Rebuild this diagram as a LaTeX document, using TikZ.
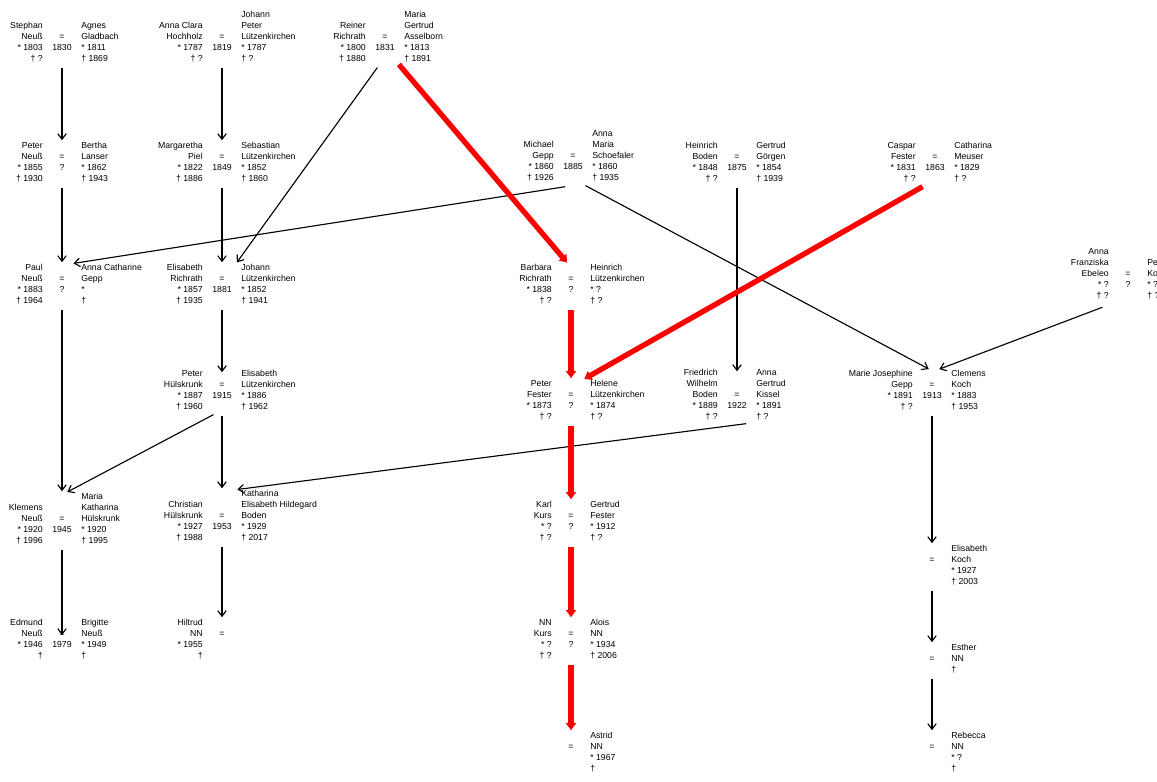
\documentclass[tikz,border=0pt]{standalone}
\usepackage{fontspec}
\setmainfont{Liberation Sans}
\usetikzlibrary{arrows.meta,calc,fit,positioning}

\tikzset{
  person/.style={inner sep=0pt, font=\fontsize{6.2}{7.8}\selectfont},
  lside/.style={person, anchor=south east, align=right},
  rside/.style={person, anchor=south west, align=left},
  wed/.style={person, anchor=south, align=center},
  kid/.style={-{Straight Barb[length=4pt,width=6pt]}, line width=0.8pt, shorten <=2pt, shorten >=1pt},
  stamm/.style={-{Triangle[length=5pt,width=7pt]}, line width=3.8pt, red, shorten <=2pt, shorten >=1pt}
}

% couple: name, bottom point, left partner, middle, right partner
\newcommand{\couple}[5]{%
  \node[wed] (#1) at (#2) {#4\strut};
  \node[lside] (#1-l) at ($(#2)+(-19,0)$) {#3\strut};
  \node[rside] (#1-r) at ($(#2)+(19,0)$) {#5\strut};
  \node[fit=(#1-l)(#1)(#1-r), inner sep=0pt] (#1-box) {};
  \coordinate (#1-top) at (#1-box.north -| #1);
  \coordinate (#1-bot) at (#1-box.south -| #1);
}

\begin{document}
\begin{tikzpicture}[x=0.025cm, y=-0.025cm]
  \useasboundingbox (0,0) rectangle (1157,782);

  % generation 1
  \couple{c1}{62,65}{Stephan\\Neuß\\* 1803\\† ?}{=\\1830\\~}{Agnes\\Gladbach\\* 1811\\† 1869}
  \couple{c2}{222,65}{Anna Clara\\Hochholz\\* 1787\\† ?}{=\\1819\\~}{Johann\\Peter\\Lützenkirchen\\* 1787\\† ?}
  \couple{c3}{385,65}{Reiner\\Richrath\\* 1800\\† 1880}{=\\1831\\~}{Maria\\Gertrud\\Asselborn\\* 1813\\† 1891}

  % generation 2
  \couple{c4}{62,185}{Peter\\Neuß\\* 1855\\† 1930}{=\\?\\~}{Bertha\\Lanser\\* 1862\\† 1943}
  \couple{c5}{222,185}{Margaretha\\Piel\\* 1822\\† 1886}{=\\1849\\~}{Sebastian\\Lützenkirchen\\* 1852\\† 1860}
  \couple{c6}{573,184}{Michael\\Gepp\\* 1860\\† 1926}{=\\1885\\~}{Anna\\Maria\\Schoefaler\\* 1860\\† 1935}
  \couple{c7}{737,185}{Heinrich\\Boden\\* 1848\\† ?}{=\\1875\\~}{Gertrud\\Görgen\\* 1854\\† 1939}
  \couple{c8}{935,185}{Caspar\\Fester\\* 1831\\† ?}{=\\1863\\~}{Catharina\\Meuser\\* 1829\\† ?}

  % generation 3
  \couple{c9}{62,307}{Paul\\Neuß\\* 1883\\† 1964}{=\\?\\~}{Anna Catharine\\Gepp\\*\\†}
  \couple{c10}{222,307}{Elisabeth\\Richrath\\* 1857\\† 1935}{=\\1881\\~}{Johann\\Lützenkirchen\\* 1852\\† 1941}
  \couple{c11}{571,307}{Barbara\\Richrath\\* 1838\\† ?}{=\\?\\~}{Heinrich\\Lützenkirchen\\* ?\\† ?}
  \couple{c12}{1128,302}{Anna\\Franziska\\Ebeleo\\* ?\\† ?}{=\\?\\~}{Peter\\Koch\\* ?\\† ?}

  % generation 4
  \couple{c13}{222,413}{Peter\\Hülskrunk\\* 1887\\† 1960}{=\\1915\\~}{Elisabeth\\Lützenkirchen\\* 1886\\† 1962}
  \couple{c14}{571,423}{Peter\\Fester\\* 1873\\† ?}{=\\?\\~}{Helene\\Lützenkirchen\\* 1874\\† ?}
  \couple{c15}{737,423}{Friedrich\\Wilhelm\\Boden\\* 1889\\† ?}{=\\1922\\~}{Anna\\Gertrud\\Kissel\\* 1891\\† ?}
  \couple{c16}{932,413}{Marie Josephine\\Gepp\\* 1891\\† ?}{=\\1913\\~}{Clemens\\Koch\\* 1883\\† 1953}

  % generation 5
  \couple{c17}{62,547}{Klemens\\Neuß\\* 1920\\† 1996}{=\\1945\\~}{Maria\\Katharina\\Hülskrunk\\* 1920\\† 1995}
  \couple{c18}{222,544}{Christian\\Hülskrunk\\* 1927\\† 1988}{=\\1953\\~}{Katharina\\Elisabeth Hildegard\\Boden\\* 1929\\† 2017}
  \couple{c19}{571,544}{Karl\\Kurs\\* ?\\† ?}{=\\?\\~}{Gertrud\\Fester\\* 1912\\† ?}
  \couple{c20}{932,588}{}{=\\~\\~}{Elisabeth\\Koch\\* 1927\\† 2003}

  % generation 6
  \couple{c21}{62,662}{Edmund\\Neuß\\* 1946\\†}{=\\1979\\~}{Brigitte\\Neuß\\* 1949\\†}
  \couple{c22}{222,662}{Hiltrud\\NN\\* 1955\\†}{=\\~\\~}{}
  \couple{c23}{571,662}{NN\\Kurs\\* ?\\† ?}{=\\?\\~}{Alois\\NN\\* 1934\\† 2006}
  \couple{c24}{932,676}{}{=\\~}{Esther\\NN\\†}

  % generation 7
  \couple{c25}{571,775}{}{=\\~\\~}{Astrid\\NN\\* 1967\\†}
  \couple{c26}{932,775}{}{=\\~\\~}{Rebecca\\NN\\* ?\\†}

  % descent
  \draw[kid] (c1-bot) -- (c4-top);
  \draw[kid] (c2-bot) -- (c5-top);
  \draw[kid] ($(c3-bot)+(-6,0)$) -- ($(c10-top)+(14,0)$);
  \draw[kid] (c4-bot) -- (c9-top);
  \draw[kid] (c5-bot) -- (c10-top);
  \draw[kid] ($(c6-bot)+(-5,2)$) -- ($(c9-top)+(10,0)$);
  \draw[kid] ($(c6-bot)+(10,0)$) -- ($(c16-top)+(-2,0)$);
  \draw[kid] (c7-bot) -- ($(c15-top)+(0,4)$);
  \draw[kid] ($(c12-bot)+(-23,4)$) -- ($(c16-top)+(6,0)$);
  \draw[kid] (c9-bot) -- (c17-top);
  \draw[kid] (c10-bot) -- ($(c13-top)+(0,4)$);
  \draw[kid] ($(c13-bot)+(-6,0)$) -- ($(c17-top)+(4,0)$);
  \draw[kid] (c13-bot) -- (c18-top);
  \draw[kid] ($(c15-bot)+(12,0)$) -- ($(c18-top)+(14,0)$);
  \draw[kid] (c17-bot) -- ($(c21-top)+(0,18)$);
  \draw[kid] (c18-bot) -- (c22-top);
  \draw[kid] (c16-bot) -- (c20-top);
  \draw[kid] (c20-bot) -- (c24-top);
  \draw[kid] (c24-bot) -- (c26-top);

  % main line
  \draw[stamm] ($(c3-bot)+(12,-3)$) -- ($(c11-top)+(-3,0)$);
  \draw[stamm] (c11-bot) -- (c14-top);
  \draw[stamm] ($(c8-bot)+(-10,0)$) -- ($(c14-top)+(12,0)$);
  \draw[stamm] (c14-bot) -- (c19-top);
  \draw[stamm] (c19-bot) -- (c23-top);
  \draw[stamm] (c23-bot) -- (c25-top);
\end{tikzpicture}
\end{document}
